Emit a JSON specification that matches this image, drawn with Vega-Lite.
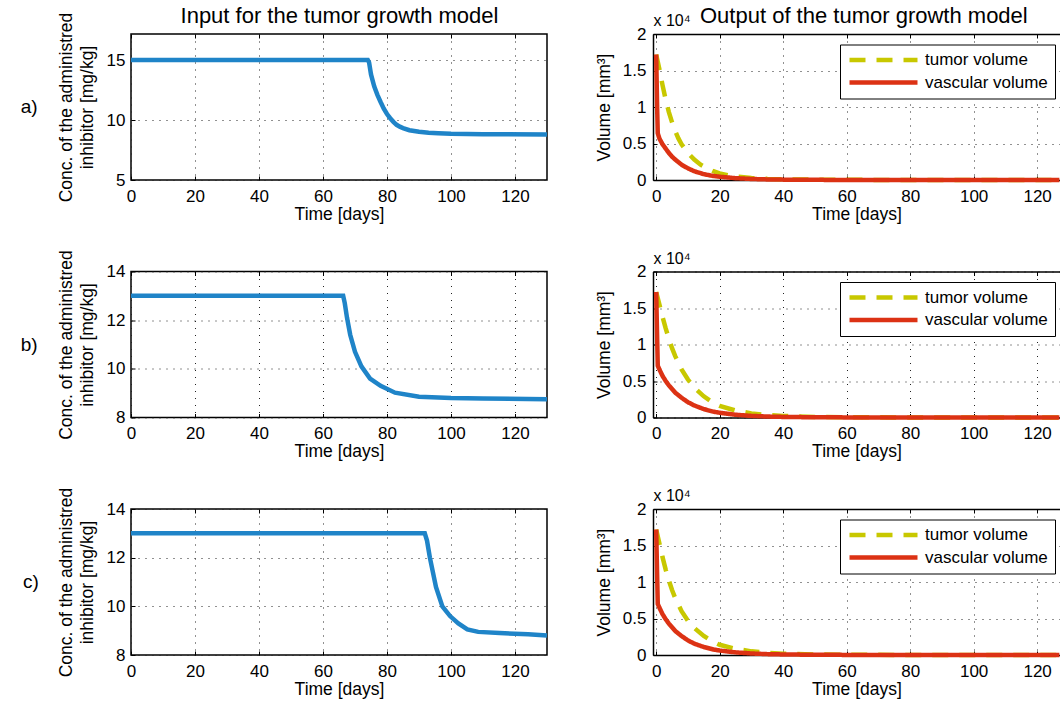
{
  "$schema": "https://vega.github.io/schema/vega-lite/v6.json",
  "autosize": {"type": "pad"},
  "padding": {"left": 20, "top": 3, "right": 0, "bottom": 5},
  "background": "white",
  "bounds": "flush",
  "columns": 2,
  "spacing": {"row": 91.5, "column": 106},
  "resolve": {"scale": {"color": "independent", "strokeDash": "independent"}, "legend": {"color": "independent", "strokeDash": "independent"}},
  "datasets": {
    "inA": [
      {"t": 0, "c": 15}, {"t": 74, "c": 15}, {"t": 74.4, "c": 14.8}, {"t": 75, "c": 13.8}, {"t": 76, "c": 12.8},
      {"t": 77, "c": 12.1}, {"t": 78, "c": 11.5}, {"t": 79, "c": 10.95}, {"t": 80, "c": 10.5}, {"t": 81, "c": 10.15},
      {"t": 82, "c": 9.85}, {"t": 83, "c": 9.6}, {"t": 84, "c": 9.45}, {"t": 85, "c": 9.33}, {"t": 87, "c": 9.15},
      {"t": 90, "c": 9.02}, {"t": 93, "c": 8.94}, {"t": 96, "c": 8.9}, {"t": 100, "c": 8.85}, {"t": 110, "c": 8.82},
      {"t": 130, "c": 8.8}
    ],
    "inB": [
      {"t": 0, "c": 13}, {"t": 66.3, "c": 13}, {"t": 66.8, "c": 12.7}, {"t": 67.5, "c": 12.1}, {"t": 68.5, "c": 11.4},
      {"t": 70, "c": 10.7}, {"t": 72, "c": 10.1}, {"t": 74.7, "c": 9.6}, {"t": 78, "c": 9.3}, {"t": 82.5, "c": 9.02},
      {"t": 90, "c": 8.85}, {"t": 100, "c": 8.8}, {"t": 110, "c": 8.78}, {"t": 130, "c": 8.75}
    ],
    "inC": [
      {"t": 0, "c": 13}, {"t": 91.8, "c": 13}, {"t": 92.5, "c": 12.7}, {"t": 93.4, "c": 12.0}, {"t": 95.3, "c": 10.8},
      {"t": 97.3, "c": 10.0}, {"t": 99.7, "c": 9.6}, {"t": 102.3, "c": 9.3}, {"t": 105.1, "c": 9.05}, {"t": 108.5, "c": 8.95},
      {"t": 115.2, "c": 8.9}, {"t": 124.1, "c": 8.85}, {"t": 130, "c": 8.8}
    ],
    "outA": [
      {"t": 0, "v": 1.72, "s": "tumor volume"}, {"t": 1, "v": 1.52, "s": "tumor volume"}, {"t": 2, "v": 1.30, "s": "tumor volume"},
      {"t": 3, "v": 1.10, "s": "tumor volume"}, {"t": 4, "v": 0.93, "s": "tumor volume"}, {"t": 5, "v": 0.79, "s": "tumor volume"},
      {"t": 6, "v": 0.67, "s": "tumor volume"}, {"t": 7, "v": 0.57, "s": "tumor volume"}, {"t": 8, "v": 0.49, "s": "tumor volume"},
      {"t": 10, "v": 0.37, "s": "tumor volume"}, {"t": 12, "v": 0.28, "s": "tumor volume"}, {"t": 14, "v": 0.21, "s": "tumor volume"},
      {"t": 16, "v": 0.16, "s": "tumor volume"}, {"t": 18, "v": 0.12, "s": "tumor volume"}, {"t": 20, "v": 0.09, "s": "tumor volume"},
      {"t": 23, "v": 0.062, "s": "tumor volume"}, {"t": 26, "v": 0.043, "s": "tumor volume"}, {"t": 30, "v": 0.027, "s": "tumor volume"},
      {"t": 35, "v": 0.016, "s": "tumor volume"}, {"t": 40, "v": 0.01, "s": "tumor volume"}, {"t": 50, "v": 0.004, "s": "tumor volume"},
      {"t": 60, "v": 0.002, "s": "tumor volume"}, {"t": 80, "v": 0.001, "s": "tumor volume"}, {"t": 100, "v": 0.0005, "s": "tumor volume"},
      {"t": 127, "v": 0.0003, "s": "tumor volume"},
      {"t": 0, "v": 1.72, "s": "vascular volume"}, {"t": 0.3, "v": 1.0, "s": "vascular volume"}, {"t": 0.5, "v": 0.64, "s": "vascular volume"},
      {"t": 1, "v": 0.57, "s": "vascular volume"}, {"t": 2, "v": 0.49, "s": "vascular volume"}, {"t": 3, "v": 0.43, "s": "vascular volume"},
      {"t": 4, "v": 0.37, "s": "vascular volume"}, {"t": 5, "v": 0.32, "s": "vascular volume"}, {"t": 6, "v": 0.28, "s": "vascular volume"},
      {"t": 8, "v": 0.21, "s": "vascular volume"}, {"t": 10, "v": 0.16, "s": "vascular volume"}, {"t": 12, "v": 0.12, "s": "vascular volume"},
      {"t": 15, "v": 0.08, "s": "vascular volume"}, {"t": 18, "v": 0.055, "s": "vascular volume"}, {"t": 20, "v": 0.045, "s": "vascular volume"},
      {"t": 25, "v": 0.025, "s": "vascular volume"}, {"t": 30, "v": 0.014, "s": "vascular volume"}, {"t": 35, "v": 0.008, "s": "vascular volume"},
      {"t": 40, "v": 0.005, "s": "vascular volume"}, {"t": 50, "v": 0.002, "s": "vascular volume"}, {"t": 60, "v": 0.001, "s": "vascular volume"},
      {"t": 80, "v": 0.0005, "s": "vascular volume"}, {"t": 127, "v": 0.0003, "s": "vascular volume"}
    ],
    "outB": [
      {"t": 0, "v": 1.72, "s": "tumor volume"}, {"t": 1, "v": 1.55, "s": "tumor volume"}, {"t": 2, "v": 1.38, "s": "tumor volume"},
      {"t": 3, "v": 1.22, "s": "tumor volume"}, {"t": 4, "v": 1.08, "s": "tumor volume"}, {"t": 5, "v": 0.95, "s": "tumor volume"},
      {"t": 6, "v": 0.84, "s": "tumor volume"}, {"t": 8, "v": 0.66, "s": "tumor volume"}, {"t": 10, "v": 0.52, "s": "tumor volume"},
      {"t": 12, "v": 0.41, "s": "tumor volume"}, {"t": 15, "v": 0.29, "s": "tumor volume"}, {"t": 18, "v": 0.20, "s": "tumor volume"},
      {"t": 20, "v": 0.16, "s": "tumor volume"}, {"t": 25, "v": 0.095, "s": "tumor volume"}, {"t": 30, "v": 0.056, "s": "tumor volume"},
      {"t": 35, "v": 0.034, "s": "tumor volume"}, {"t": 40, "v": 0.021, "s": "tumor volume"}, {"t": 50, "v": 0.008, "s": "tumor volume"},
      {"t": 60, "v": 0.0035, "s": "tumor volume"}, {"t": 80, "v": 0.001, "s": "tumor volume"}, {"t": 127, "v": 0.0005, "s": "tumor volume"},
      {"t": 0, "v": 1.72, "s": "vascular volume"}, {"t": 0.3, "v": 1.1, "s": "vascular volume"}, {"t": 0.5, "v": 0.71, "s": "vascular volume"},
      {"t": 1, "v": 0.66, "s": "vascular volume"}, {"t": 2, "v": 0.57, "s": "vascular volume"}, {"t": 3, "v": 0.50, "s": "vascular volume"},
      {"t": 4, "v": 0.44, "s": "vascular volume"}, {"t": 5, "v": 0.39, "s": "vascular volume"}, {"t": 6, "v": 0.34, "s": "vascular volume"},
      {"t": 8, "v": 0.27, "s": "vascular volume"}, {"t": 10, "v": 0.21, "s": "vascular volume"}, {"t": 12, "v": 0.165, "s": "vascular volume"},
      {"t": 15, "v": 0.115, "s": "vascular volume"}, {"t": 18, "v": 0.08, "s": "vascular volume"}, {"t": 20, "v": 0.065, "s": "vascular volume"},
      {"t": 25, "v": 0.038, "s": "vascular volume"}, {"t": 30, "v": 0.022, "s": "vascular volume"}, {"t": 35, "v": 0.013, "s": "vascular volume"},
      {"t": 40, "v": 0.008, "s": "vascular volume"}, {"t": 50, "v": 0.003, "s": "vascular volume"}, {"t": 60, "v": 0.0015, "s": "vascular volume"},
      {"t": 127, "v": 0.0005, "s": "vascular volume"}
    ],
    "outC": [
      {"t": 0, "v": 1.72, "s": "tumor volume"}, {"t": 1, "v": 1.53, "s": "tumor volume"}, {"t": 2, "v": 1.34, "s": "tumor volume"},
      {"t": 3, "v": 1.17, "s": "tumor volume"}, {"t": 4, "v": 1.02, "s": "tumor volume"}, {"t": 5, "v": 0.89, "s": "tumor volume"},
      {"t": 6, "v": 0.78, "s": "tumor volume"}, {"t": 8, "v": 0.60, "s": "tumor volume"}, {"t": 10, "v": 0.47, "s": "tumor volume"},
      {"t": 12, "v": 0.37, "s": "tumor volume"}, {"t": 15, "v": 0.26, "s": "tumor volume"}, {"t": 18, "v": 0.18, "s": "tumor volume"},
      {"t": 20, "v": 0.14, "s": "tumor volume"}, {"t": 25, "v": 0.085, "s": "tumor volume"}, {"t": 30, "v": 0.05, "s": "tumor volume"},
      {"t": 35, "v": 0.03, "s": "tumor volume"}, {"t": 40, "v": 0.018, "s": "tumor volume"}, {"t": 50, "v": 0.007, "s": "tumor volume"},
      {"t": 60, "v": 0.003, "s": "tumor volume"}, {"t": 80, "v": 0.001, "s": "tumor volume"}, {"t": 127, "v": 0.0005, "s": "tumor volume"},
      {"t": 0, "v": 1.72, "s": "vascular volume"}, {"t": 0.3, "v": 1.1, "s": "vascular volume"}, {"t": 0.5, "v": 0.70, "s": "vascular volume"},
      {"t": 1, "v": 0.65, "s": "vascular volume"}, {"t": 2, "v": 0.56, "s": "vascular volume"}, {"t": 3, "v": 0.49, "s": "vascular volume"},
      {"t": 4, "v": 0.43, "s": "vascular volume"}, {"t": 5, "v": 0.38, "s": "vascular volume"}, {"t": 6, "v": 0.33, "s": "vascular volume"},
      {"t": 8, "v": 0.26, "s": "vascular volume"}, {"t": 10, "v": 0.20, "s": "vascular volume"}, {"t": 12, "v": 0.155, "s": "vascular volume"},
      {"t": 15, "v": 0.11, "s": "vascular volume"}, {"t": 18, "v": 0.076, "s": "vascular volume"}, {"t": 20, "v": 0.061, "s": "vascular volume"},
      {"t": 25, "v": 0.036, "s": "vascular volume"}, {"t": 30, "v": 0.021, "s": "vascular volume"}, {"t": 35, "v": 0.012, "s": "vascular volume"},
      {"t": 40, "v": 0.0075, "s": "vascular volume"}, {"t": 50, "v": 0.003, "s": "vascular volume"}, {"t": 60, "v": 0.0015, "s": "vascular volume"},
      {"t": 127, "v": 0.0005, "s": "vascular volume"}
    ]
  },
  "concat": [
    {
      "width": 416, "height": 146,
      "title": {"text": "a)", "orient": "left", "angle": 0, "anchor": "middle", "frame": "group", "align": "right", "baseline": "middle", "fontSize": 19, "offset": 3},
      "data": {"name": "inA"},
      "layer": [
        {"mark": {"type": "line", "color": "#1f84c8", "strokeWidth": 4.5},
         "encoding": {
           "x": {"field": "t", "type": "quantitative", "scale": {"domain": [0, 130], "nice": false}, "axis": {"title": "Time [days]", "values": [0, 20, 40, 60, 80, 100, 120]}},
           "y": {"field": "c", "type": "quantitative", "scale": {"domain": [5, 17.17], "nice": false, "zero": false}, "axis": {"title": ["Conc. of the administred", "inhibitor  [mg/kg]"], "values": [5, 10, 15]}}
         }},
        {"mark": {"type": "line", "opacity": 0},
         "encoding": {
           "x": {"field": "t", "type": "quantitative", "axis": {"orient": "top", "labels": false, "domain": false, "grid": false, "title": "Input for the tumor growth model", "titleFontSize": 22, "titlePadding": 6, "values": [0, 20, 40, 60, 80, 100, 120]}}
         }}
      ],
      "resolve": {"axis": {"x": "independent"}}
    },
    {
      "width": 407, "height": 146,
      "title": {"text": "Output of the tumor growth model", "anchor": "start", "frame": "group", "dx": 47, "offset": -15},
      "view": {"stroke": null},
      "data": {"name": "outA"},
      "layer": [
        {"mark": {"type": "line", "strokeWidth": 4.5},
         "encoding": {
           "x": {"field": "t", "type": "quantitative", "scale": {"domain": [-1, 127.2], "nice": false}, "axis": {"title": "Time [days]", "values": [0, 20, 40, 60, 80, 100, 120], "domain": true}},
           "y": {"field": "v", "type": "quantitative", "scale": {"domain": [0, 2], "nice": false}, "axis": {"title": "Volume [mm³]", "values": [0, 0.5, 1, 1.5, 2], "format": "~g", "labelOverlap": false, "labelSeparation": -40, "labelBound": false, "domain": true, "labelPadding": 11, "titlePadding": 9}},
           "color": {"field": "s", "type": "nominal", "scale": {"domain": ["tumor volume", "vascular volume"], "range": ["#c8c800", "#dc3214"]}, "legend": {"title": null, "orient": "none", "legendX": 187, "legendY": 10.5}},
           "strokeDash": {"field": "s", "type": "nominal", "scale": {"domain": ["tumor volume", "vascular volume"], "range": [[16, 11], [1, 0]]}, "legend": {"title": null, "orient": "none", "legendX": 187, "legendY": 10.5}}
         }},
        {"mark": {"type": "line", "opacity": 0},
         "encoding": {
           "x": {"field": "t", "type": "quantitative", "axis": {"orient": "top", "labels": false, "domain": true, "grid": false, "title": "x 10⁴", "titleAnchor": "start", "titleAlign": "left", "titleFontSize": 16, "titlePadding": 5, "values": [0, 20, 40, 60, 80, 100, 120]}}
         }}
      ],
      "resolve": {"axis": {"x": "independent"}}
    },
    {
      "width": 416, "height": 146,
      "title": {"text": "b)", "orient": "left", "angle": 0, "anchor": "middle", "frame": "group", "align": "right", "baseline": "middle", "fontSize": 19, "offset": 3},
      "data": {"name": "inB"},
      "layer": [
        {"mark": {"type": "line", "color": "#1f84c8", "strokeWidth": 4.5},
         "encoding": {
           "x": {"field": "t", "type": "quantitative", "scale": {"domain": [0, 130], "nice": false}, "axis": {"title": "Time [days]", "values": [0, 20, 40, 60, 80, 100, 120]}},
           "y": {"field": "c", "type": "quantitative", "scale": {"domain": [8, 14], "nice": false, "zero": false}, "axis": {"title": ["Conc. of the administred", "inhibitor  [mg/kg]"], "values": [8, 10, 12, 14]}}
         }},
        {"mark": {"type": "line", "opacity": 0},
         "encoding": {
           "x": {"field": "t", "type": "quantitative", "axis": {"orient": "top", "labels": false, "domain": false, "grid": false, "title": null, "values": [0, 20, 40, 60, 80, 100, 120]}}
         }}
      ],
      "resolve": {"axis": {"x": "independent"}}
    },
    {
      "width": 407, "height": 146,
      "view": {"stroke": null},
      "data": {"name": "outB"},
      "layer": [
        {"mark": {"type": "line", "strokeWidth": 4.5},
         "encoding": {
           "x": {"field": "t", "type": "quantitative", "scale": {"domain": [-1, 127.2], "nice": false}, "axis": {"title": "Time [days]", "values": [0, 20, 40, 60, 80, 100, 120], "domain": true}},
           "y": {"field": "v", "type": "quantitative", "scale": {"domain": [0, 2], "nice": false}, "axis": {"title": "Volume [mm³]", "values": [0, 0.5, 1, 1.5, 2], "format": "~g", "labelOverlap": false, "labelSeparation": -40, "labelBound": false, "domain": true, "labelPadding": 11, "titlePadding": 9}},
           "color": {"field": "s", "type": "nominal", "scale": {"domain": ["tumor volume", "vascular volume"], "range": ["#c8c800", "#dc3214"]}, "legend": {"title": null, "orient": "none", "legendX": 187, "legendY": 10.5}},
           "strokeDash": {"field": "s", "type": "nominal", "scale": {"domain": ["tumor volume", "vascular volume"], "range": [[16, 11], [1, 0]]}, "legend": {"title": null, "orient": "none", "legendX": 187, "legendY": 10.5}}
         }},
        {"mark": {"type": "line", "opacity": 0},
         "encoding": {
           "x": {"field": "t", "type": "quantitative", "axis": {"orient": "top", "labels": false, "domain": true, "grid": false, "title": "x 10⁴", "titleAnchor": "start", "titleAlign": "left", "titleFontSize": 16, "titlePadding": 5, "values": [0, 20, 40, 60, 80, 100, 120]}}
         }}
      ],
      "resolve": {"axis": {"x": "independent"}}
    },
    {
      "width": 416, "height": 146,
      "title": {"text": "c)", "orient": "left", "angle": 0, "anchor": "middle", "frame": "group", "align": "right", "baseline": "middle", "fontSize": 19, "offset": 3},
      "data": {"name": "inC"},
      "layer": [
        {"mark": {"type": "line", "color": "#1f84c8", "strokeWidth": 4.5},
         "encoding": {
           "x": {"field": "t", "type": "quantitative", "scale": {"domain": [0, 130], "nice": false}, "axis": {"title": "Time [days]", "values": [0, 20, 40, 60, 80, 100, 120]}},
           "y": {"field": "c", "type": "quantitative", "scale": {"domain": [8, 14], "nice": false, "zero": false}, "axis": {"title": ["Conc. of the administred", "inhibitor  [mg/kg]"], "values": [8, 10, 12, 14]}}
         }},
        {"mark": {"type": "line", "opacity": 0},
         "encoding": {
           "x": {"field": "t", "type": "quantitative", "axis": {"orient": "top", "labels": false, "domain": false, "grid": false, "title": null, "values": [0, 20, 40, 60, 80, 100, 120]}}
         }}
      ],
      "resolve": {"axis": {"x": "independent"}}
    },
    {
      "width": 407, "height": 146,
      "view": {"stroke": null},
      "data": {"name": "outC"},
      "layer": [
        {"mark": {"type": "line", "strokeWidth": 4.5},
         "encoding": {
           "x": {"field": "t", "type": "quantitative", "scale": {"domain": [-1, 127.2], "nice": false}, "axis": {"title": "Time [days]", "values": [0, 20, 40, 60, 80, 100, 120], "domain": true}},
           "y": {"field": "v", "type": "quantitative", "scale": {"domain": [0, 2], "nice": false}, "axis": {"title": "Volume [mm³]", "values": [0, 0.5, 1, 1.5, 2], "format": "~g", "labelOverlap": false, "labelSeparation": -40, "labelBound": false, "domain": true, "labelPadding": 11, "titlePadding": 9}},
           "color": {"field": "s", "type": "nominal", "scale": {"domain": ["tumor volume", "vascular volume"], "range": ["#c8c800", "#dc3214"]}, "legend": {"title": null, "orient": "none", "legendX": 187, "legendY": 10.5}},
           "strokeDash": {"field": "s", "type": "nominal", "scale": {"domain": ["tumor volume", "vascular volume"], "range": [[16, 11], [1, 0]]}, "legend": {"title": null, "orient": "none", "legendX": 187, "legendY": 10.5}}
         }},
        {"mark": {"type": "line", "opacity": 0},
         "encoding": {
           "x": {"field": "t", "type": "quantitative", "axis": {"orient": "top", "labels": false, "domain": true, "grid": false, "title": "x 10⁴", "titleAnchor": "start", "titleAlign": "left", "titleFontSize": 16, "titlePadding": 5, "values": [0, 20, 40, 60, 80, 100, 120]}}
         }}
      ],
      "resolve": {"axis": {"x": "independent"}}
    }
  ],
  "config": {
    "font": "Liberation Sans",
    "view": {"stroke": "black", "strokeWidth": 1.5},
    "axis": {
      "labelFont": "Liberation Sans", "labelFontSize": 17, "labelColor": "black",
      "titleFont": "Liberation Sans", "titleFontSize": 17.5, "titleFontWeight": "normal", "titleColor": "black", "titleLineHeight": 20.5,
      "domainColor": "black", "domainWidth": 1.5, "domain": false,
      "tickColor": "black", "tickSize": -4, "tickWidth": 1,
      "grid": true, "gridColor": "#222222", "gridDash": [1, 6], "gridWidth": 1,
      "labelFlush": false, "labelOverlap": false
    },
    "axisX": {"labelPadding": 12, "titlePadding": 1},
    "axisY": {"labelPadding": 10, "titlePadding": 10},
    "title": {"font": "Liberation Sans", "fontSize": 22, "fontWeight": "normal", "color": "black"},
    "legend": {
      "strokeColor": "black", "fillColor": "white", "padding": 7, "cornerRadius": 0,
      "symbolType": "stroke", "symbolSize": 4624, "symbolStrokeWidth": 4.5, "clipHeight": 17,
      "labelFont": "Liberation Sans", "labelFontSize": 17, "labelColor": "black", "labelOffset": 5, "rowPadding": 4.6
    }
  }
}
